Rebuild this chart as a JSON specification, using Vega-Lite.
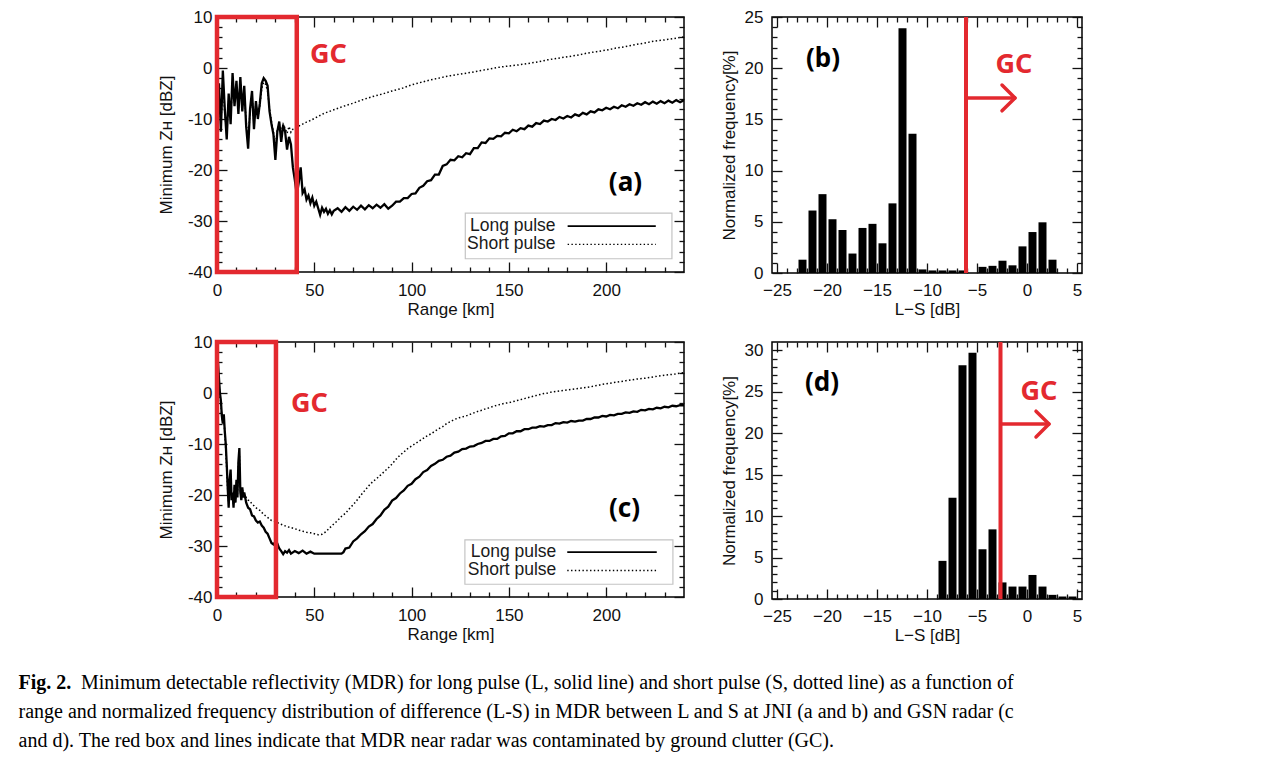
{
"$schema": "https://vega.github.io/schema/vega-lite/v6.json",
"background": "white",
"padding": {"left": 18, "top": 7, "right": 5, "bottom": 5},
"config": {
  "view": {"stroke": "black", "strokeWidth": 1.5},
  "font": "Liberation Sans",
  "axis": {"domain": false, "grid": false, "labelFont": "Liberation Sans", "labelFontSize": 17, "labelColor": "#111", "titleFont": "Liberation Sans", "titleFontSize": 17, "titleFontWeight": "normal", "titleColor": "#111", "tickColor": "#111", "tickWidth": 1.3, "labelFlush": false, "labelOverlap": false}
},
"datasets": {
  "mdrA": [
    {"pulse":"Long pulse","km":0,"dbz":-10.5},{"pulse":"Long pulse","km":1,"dbz":-3},{"pulse":"Long pulse","km":2,"dbz":-12.5},{"pulse":"Long pulse","km":3,"dbz":-0.5},{"pulse":"Long pulse","km":4,"dbz":-8},{"pulse":"Long pulse","km":5,"dbz":-14},{"pulse":"Long pulse","km":6,"dbz":-5},{"pulse":"Long pulse","km":7,"dbz":-11},{"pulse":"Long pulse","km":8,"dbz":-1},{"pulse":"Long pulse","km":9,"dbz":-7.5},{"pulse":"Long pulse","km":10,"dbz":-2.5},{"pulse":"Long pulse","km":11,"dbz":-9},{"pulse":"Long pulse","km":12,"dbz":-1.8},{"pulse":"Long pulse","km":13,"dbz":-8.5},{"pulse":"Long pulse","km":14,"dbz":-3.5},{"pulse":"Long pulse","km":15,"dbz":-11.5},{"pulse":"Long pulse","km":16,"dbz":-15.8},{"pulse":"Long pulse","km":17,"dbz":-8},{"pulse":"Long pulse","km":18,"dbz":-4.5},{"pulse":"Long pulse","km":19,"dbz":-12},{"pulse":"Long pulse","km":20,"dbz":-6.5},{"pulse":"Long pulse","km":21,"dbz":-10},{"pulse":"Long pulse","km":22,"dbz":-7},{"pulse":"Long pulse","km":23,"dbz":-3},{"pulse":"Long pulse","km":24,"dbz":-2},{"pulse":"Long pulse","km":25,"dbz":-2.5},{"pulse":"Long pulse","km":26,"dbz":-3.5},{"pulse":"Long pulse","km":27,"dbz":-8.5},{"pulse":"Long pulse","km":28,"dbz":-11},{"pulse":"Long pulse","km":29,"dbz":-13},{"pulse":"Long pulse","km":30,"dbz":-18},{"pulse":"Long pulse","km":31,"dbz":-12.5},{"pulse":"Long pulse","km":32,"dbz":-10.5},{"pulse":"Long pulse","km":33,"dbz":-14.5},{"pulse":"Long pulse","km":34,"dbz":-11.2},{"pulse":"Long pulse","km":35,"dbz":-12.5},{"pulse":"Long pulse","km":36,"dbz":-16},{"pulse":"Long pulse","km":37,"dbz":-13.5},{"pulse":"Long pulse","km":38,"dbz":-15},{"pulse":"Long pulse","km":39,"dbz":-19.5},{"pulse":"Long pulse","km":40,"dbz":-22},{"pulse":"Long pulse","km":41,"dbz":-24.8},{"pulse":"Long pulse","km":42,"dbz":-22.5},{"pulse":"Long pulse","km":43,"dbz":-19.5},{"pulse":"Long pulse","km":44,"dbz":-24.5},{"pulse":"Long pulse","km":45,"dbz":-23.8},{"pulse":"Long pulse","km":46,"dbz":-25.8},{"pulse":"Long pulse","km":47,"dbz":-25},{"pulse":"Long pulse","km":48,"dbz":-26.5},{"pulse":"Long pulse","km":49,"dbz":-25.4},{"pulse":"Long pulse","km":50,"dbz":-27},{"pulse":"Long pulse","km":51,"dbz":-26.2},{"pulse":"Long pulse","km":52,"dbz":-27.5},{"pulse":"Long pulse","km":53,"dbz":-28.8},{"pulse":"Long pulse","km":54,"dbz":-27.4},{"pulse":"Long pulse","km":55,"dbz":-28.2},{"pulse":"Long pulse","km":56,"dbz":-27.6},{"pulse":"Long pulse","km":57,"dbz":-28.6},{"pulse":"Long pulse","km":58,"dbz":-27.9},{"pulse":"Long pulse","km":59,"dbz":-28.7},{"pulse":"Long pulse","km":60,"dbz":-28.0},
    {"pulse":"Long pulse","km":62,"dbz":-27.5},{"pulse":"Long pulse","km":64,"dbz":-28.2},{"pulse":"Long pulse","km":66,"dbz":-27.3},{"pulse":"Long pulse","km":68,"dbz":-28.0},{"pulse":"Long pulse","km":70,"dbz":-27.2},{"pulse":"Long pulse","km":72,"dbz":-27.8},{"pulse":"Long pulse","km":74,"dbz":-27.0},{"pulse":"Long pulse","km":76,"dbz":-27.7},{"pulse":"Long pulse","km":78,"dbz":-26.9},{"pulse":"Long pulse","km":80,"dbz":-27.5},{"pulse":"Long pulse","km":82,"dbz":-26.8},{"pulse":"Long pulse","km":84,"dbz":-27.4},{"pulse":"Long pulse","km":86,"dbz":-26.7},{"pulse":"Long pulse","km":88,"dbz":-27.6},{"pulse":"Long pulse","km":90,"dbz":-27.0},{"pulse":"Long pulse","km":92,"dbz":-26.2},{"pulse":"Long pulse","km":94,"dbz":-26.2},{"pulse":"Long pulse","km":96,"dbz":-25.5},{"pulse":"Long pulse","km":98,"dbz":-25.5},{"pulse":"Long pulse","km":100,"dbz":-24.7},{"pulse":"Long pulse","km":102,"dbz":-24.6},{"pulse":"Long pulse","km":104,"dbz":-23.5},{"pulse":"Long pulse","km":106,"dbz":-23.1},{"pulse":"Long pulse","km":108,"dbz":-22.2},{"pulse":"Long pulse","km":110,"dbz":-22.0},{"pulse":"Long pulse","km":112,"dbz":-20.9},{"pulse":"Long pulse","km":114,"dbz":-20.9},{"pulse":"Long pulse","km":116,"dbz":-19.2},{"pulse":"Long pulse","km":118,"dbz":-18.9},{"pulse":"Long pulse","km":120,"dbz":-18.0},{"pulse":"Long pulse","km":122,"dbz":-18.1},{"pulse":"Long pulse","km":124,"dbz":-17.3},{"pulse":"Long pulse","km":126,"dbz":-17.5},{"pulse":"Long pulse","km":128,"dbz":-16.7},{"pulse":"Long pulse","km":130,"dbz":-16.9},{"pulse":"Long pulse","km":132,"dbz":-15.7},{"pulse":"Long pulse","km":134,"dbz":-15.7},{"pulse":"Long pulse","km":136,"dbz":-14.6},{"pulse":"Long pulse","km":138,"dbz":-14.7},{"pulse":"Long pulse","km":140,"dbz":-13.8},{"pulse":"Long pulse","km":142,"dbz":-13.9},{"pulse":"Long pulse","km":144,"dbz":-13.3},{"pulse":"Long pulse","km":146,"dbz":-13.4},{"pulse":"Long pulse","km":148,"dbz":-12.7},{"pulse":"Long pulse","km":150,"dbz":-12.8},{"pulse":"Long pulse","km":152,"dbz":-12.1},{"pulse":"Long pulse","km":154,"dbz":-12.4},{"pulse":"Long pulse","km":156,"dbz":-11.8},{"pulse":"Long pulse","km":158,"dbz":-12.0},{"pulse":"Long pulse","km":160,"dbz":-11.3},{"pulse":"Long pulse","km":162,"dbz":-11.5},{"pulse":"Long pulse","km":164,"dbz":-10.8},{"pulse":"Long pulse","km":166,"dbz":-11.0},{"pulse":"Long pulse","km":168,"dbz":-10.3},{"pulse":"Long pulse","km":170,"dbz":-10.5},{"pulse":"Long pulse","km":172,"dbz":-10.0},{"pulse":"Long pulse","km":174,"dbz":-10.2},{"pulse":"Long pulse","km":176,"dbz":-9.6},{"pulse":"Long pulse","km":178,"dbz":-9.9},{"pulse":"Long pulse","km":180,"dbz":-9.4},{"pulse":"Long pulse","km":182,"dbz":-9.7},{"pulse":"Long pulse","km":184,"dbz":-9.1},{"pulse":"Long pulse","km":186,"dbz":-9.4},{"pulse":"Long pulse","km":188,"dbz":-8.8},{"pulse":"Long pulse","km":190,"dbz":-9.1},{"pulse":"Long pulse","km":192,"dbz":-8.5},{"pulse":"Long pulse","km":194,"dbz":-8.7},{"pulse":"Long pulse","km":196,"dbz":-8.1},{"pulse":"Long pulse","km":198,"dbz":-8.3},{"pulse":"Long pulse","km":200,"dbz":-7.8},{"pulse":"Long pulse","km":202,"dbz":-8.1},{"pulse":"Long pulse","km":204,"dbz":-7.6},{"pulse":"Long pulse","km":206,"dbz":-7.9},{"pulse":"Long pulse","km":208,"dbz":-7.3},{"pulse":"Long pulse","km":210,"dbz":-7.6},{"pulse":"Long pulse","km":212,"dbz":-7.1},{"pulse":"Long pulse","km":214,"dbz":-7.4},{"pulse":"Long pulse","km":216,"dbz":-6.9},{"pulse":"Long pulse","km":218,"dbz":-7.2},{"pulse":"Long pulse","km":220,"dbz":-6.7},{"pulse":"Long pulse","km":222,"dbz":-7.1},{"pulse":"Long pulse","km":224,"dbz":-6.6},{"pulse":"Long pulse","km":226,"dbz":-7.0},{"pulse":"Long pulse","km":228,"dbz":-6.5},{"pulse":"Long pulse","km":230,"dbz":-6.9},{"pulse":"Long pulse","km":232,"dbz":-6.4},{"pulse":"Long pulse","km":234,"dbz":-6.8},{"pulse":"Long pulse","km":236,"dbz":-6.3},{"pulse":"Long pulse","km":238,"dbz":-6.7},{"pulse":"Long pulse","km":240,"dbz":-6.3},
    {"pulse":"Short pulse","km":0,"dbz":-9.5},{"pulse":"Short pulse","km":1,"dbz":-5},{"pulse":"Short pulse","km":2,"dbz":-11},{"pulse":"Short pulse","km":3,"dbz":-2.5},{"pulse":"Short pulse","km":4,"dbz":-9},{"pulse":"Short pulse","km":5,"dbz":-12.5},{"pulse":"Short pulse","km":6,"dbz":-6.5},{"pulse":"Short pulse","km":7,"dbz":-10},{"pulse":"Short pulse","km":8,"dbz":-2.5},{"pulse":"Short pulse","km":9,"dbz":-6.5},{"pulse":"Short pulse","km":10,"dbz":-4},{"pulse":"Short pulse","km":11,"dbz":-8},{"pulse":"Short pulse","km":12,"dbz":-3},{"pulse":"Short pulse","km":13,"dbz":-7.5},{"pulse":"Short pulse","km":14,"dbz":-5},{"pulse":"Short pulse","km":15,"dbz":-10.5},{"pulse":"Short pulse","km":16,"dbz":-14.5},{"pulse":"Short pulse","km":17,"dbz":-8.5},{"pulse":"Short pulse","km":18,"dbz":-5.5},{"pulse":"Short pulse","km":19,"dbz":-11},{"pulse":"Short pulse","km":20,"dbz":-7},{"pulse":"Short pulse","km":21,"dbz":-9.5},{"pulse":"Short pulse","km":22,"dbz":-7.5},{"pulse":"Short pulse","km":23,"dbz":-4},{"pulse":"Short pulse","km":24,"dbz":-2.8},{"pulse":"Short pulse","km":25,"dbz":-3.2},{"pulse":"Short pulse","km":26,"dbz":-4.5},{"pulse":"Short pulse","km":27,"dbz":-8},{"pulse":"Short pulse","km":28,"dbz":-10.5},{"pulse":"Short pulse","km":29,"dbz":-12.5},{"pulse":"Short pulse","km":30,"dbz":-15.5},{"pulse":"Short pulse","km":31,"dbz":-12},{"pulse":"Short pulse","km":32,"dbz":-11},{"pulse":"Short pulse","km":33,"dbz":-12.5},{"pulse":"Short pulse","km":34,"dbz":-11},{"pulse":"Short pulse","km":35,"dbz":-11.8},{"pulse":"Short pulse","km":36,"dbz":-12.8},{"pulse":"Short pulse","km":37,"dbz":-11.5},{"pulse":"Short pulse","km":38,"dbz":-12.6},{"pulse":"Short pulse","km":39,"dbz":-12.0},{"pulse":"Short pulse","km":40,"dbz":-11.8},{"pulse":"Short pulse","km":42,"dbz":-11.4},{"pulse":"Short pulse","km":44,"dbz":-11.0},{"pulse":"Short pulse","km":46,"dbz":-10.6},{"pulse":"Short pulse","km":48,"dbz":-10.3},{"pulse":"Short pulse","km":50,"dbz":-9.9},{"pulse":"Short pulse","km":55,"dbz":-8.9},{"pulse":"Short pulse","km":60,"dbz":-8.2},{"pulse":"Short pulse","km":65,"dbz":-7.5},{"pulse":"Short pulse","km":70,"dbz":-6.9},{"pulse":"Short pulse","km":75,"dbz":-6.2},{"pulse":"Short pulse","km":80,"dbz":-5.6},{"pulse":"Short pulse","km":85,"dbz":-5.1},{"pulse":"Short pulse","km":90,"dbz":-4.5},{"pulse":"Short pulse","km":95,"dbz":-4.0},{"pulse":"Short pulse","km":100,"dbz":-3.3},{"pulse":"Short pulse","km":105,"dbz":-2.8},{"pulse":"Short pulse","km":110,"dbz":-2.3},{"pulse":"Short pulse","km":115,"dbz":-1.9},{"pulse":"Short pulse","km":120,"dbz":-1.5},{"pulse":"Short pulse","km":125,"dbz":-1.2},{"pulse":"Short pulse","km":130,"dbz":-0.9},{"pulse":"Short pulse","km":135,"dbz":-0.55},{"pulse":"Short pulse","km":140,"dbz":-0.2},{"pulse":"Short pulse","km":145,"dbz":0.15},{"pulse":"Short pulse","km":150,"dbz":0.4},{"pulse":"Short pulse","km":155,"dbz":0.6},{"pulse":"Short pulse","km":160,"dbz":0.9},{"pulse":"Short pulse","km":165,"dbz":1.2},{"pulse":"Short pulse","km":170,"dbz":1.6},{"pulse":"Short pulse","km":175,"dbz":1.9},{"pulse":"Short pulse","km":180,"dbz":2.2},{"pulse":"Short pulse","km":185,"dbz":2.5},{"pulse":"Short pulse","km":190,"dbz":2.9},{"pulse":"Short pulse","km":195,"dbz":3.2},{"pulse":"Short pulse","km":200,"dbz":3.5},{"pulse":"Short pulse","km":205,"dbz":3.9},{"pulse":"Short pulse","km":210,"dbz":4.2},{"pulse":"Short pulse","km":215,"dbz":4.6},{"pulse":"Short pulse","km":220,"dbz":4.9},{"pulse":"Short pulse","km":225,"dbz":5.3},{"pulse":"Short pulse","km":230,"dbz":5.5},{"pulse":"Short pulse","km":235,"dbz":5.8},{"pulse":"Short pulse","km":240,"dbz":6.1}
  ],
  "mdrC": [
    {"pulse":"Long pulse","km":0,"dbz":9.5},{"pulse":"Long pulse","km":0.5,"dbz":6},{"pulse":"Long pulse","km":1,"dbz":3},{"pulse":"Long pulse","km":1.5,"dbz":0},{"pulse":"Long pulse","km":2,"dbz":-1.5},{"pulse":"Long pulse","km":2.5,"dbz":-4.5},{"pulse":"Long pulse","km":3,"dbz":-6},{"pulse":"Long pulse","km":3.5,"dbz":-4.2},{"pulse":"Long pulse","km":4,"dbz":-7.5},{"pulse":"Long pulse","km":4.5,"dbz":-10},{"pulse":"Long pulse","km":5,"dbz":-14},{"pulse":"Long pulse","km":5.5,"dbz":-18.5},{"pulse":"Long pulse","km":6,"dbz":-22.5},{"pulse":"Long pulse","km":6.5,"dbz":-17},{"pulse":"Long pulse","km":7,"dbz":-15},{"pulse":"Long pulse","km":7.5,"dbz":-21},{"pulse":"Long pulse","km":8,"dbz":-19.5},{"pulse":"Long pulse","km":8.5,"dbz":-22.5},{"pulse":"Long pulse","km":9,"dbz":-18},{"pulse":"Long pulse","km":9.5,"dbz":-21.5},{"pulse":"Long pulse","km":10,"dbz":-17},{"pulse":"Long pulse","km":10.5,"dbz":-20.5},{"pulse":"Long pulse","km":11,"dbz":-13.5},{"pulse":"Long pulse","km":11.5,"dbz":-10.8},{"pulse":"Long pulse","km":12,"dbz":-19.5},{"pulse":"Long pulse","km":12.5,"dbz":-21},{"pulse":"Long pulse","km":13,"dbz":-18.5},{"pulse":"Long pulse","km":13.5,"dbz":-20.5},{"pulse":"Long pulse","km":14,"dbz":-19.5},{"pulse":"Long pulse","km":15,"dbz":-21.5},{"pulse":"Long pulse","km":16,"dbz":-22.5},{"pulse":"Long pulse","km":17,"dbz":-22.8},{"pulse":"Long pulse","km":18,"dbz":-24},{"pulse":"Long pulse","km":19,"dbz":-24.2},{"pulse":"Long pulse","km":20,"dbz":-25},{"pulse":"Long pulse","km":21,"dbz":-25.4},{"pulse":"Long pulse","km":22,"dbz":-25.2},{"pulse":"Long pulse","km":23,"dbz":-26},{"pulse":"Long pulse","km":24,"dbz":-26.4},{"pulse":"Long pulse","km":25,"dbz":-27.2},{"pulse":"Long pulse","km":26,"dbz":-27.6},{"pulse":"Long pulse","km":27,"dbz":-28.5},{"pulse":"Long pulse","km":28,"dbz":-29.4},{"pulse":"Long pulse","km":29,"dbz":-29.7},{"pulse":"Long pulse","km":30,"dbz":-29.2},{"pulse":"Long pulse","km":31,"dbz":-29.5},{"pulse":"Long pulse","km":32,"dbz":-30.5},{"pulse":"Long pulse","km":33,"dbz":-31.0},{"pulse":"Long pulse","km":34,"dbz":-31.6},{"pulse":"Long pulse","km":35,"dbz":-31.0},{"pulse":"Long pulse","km":36,"dbz":-31.3},{"pulse":"Long pulse","km":37,"dbz":-30.8},{"pulse":"Long pulse","km":38,"dbz":-31.5},{"pulse":"Long pulse","km":40,"dbz":-31.0},{"pulse":"Long pulse","km":42,"dbz":-31.4},{"pulse":"Long pulse","km":44,"dbz":-30.9},{"pulse":"Long pulse","km":46,"dbz":-31.5},{"pulse":"Long pulse","km":48,"dbz":-31.1},{"pulse":"Long pulse","km":50,"dbz":-31.5},{"pulse":"Long pulse","km":52,"dbz":-31.5},{"pulse":"Long pulse","km":56,"dbz":-31.5},{"pulse":"Long pulse","km":60,"dbz":-31.5},{"pulse":"Long pulse","km":64,"dbz":-31.5},{"pulse":"Long pulse","km":65,"dbz":-31.2},{"pulse":"Long pulse","km":66,"dbz":-30.5},{"pulse":"Long pulse","km":68,"dbz":-30.3},{"pulse":"Long pulse","km":70,"dbz":-29.1},{"pulse":"Long pulse","km":72,"dbz":-28.5},{"pulse":"Long pulse","km":74,"dbz":-27.7},{"pulse":"Long pulse","km":76,"dbz":-27.1},{"pulse":"Long pulse","km":78,"dbz":-26.2},{"pulse":"Long pulse","km":80,"dbz":-25.7},{"pulse":"Long pulse","km":82,"dbz":-24.7},{"pulse":"Long pulse","km":84,"dbz":-24.0},{"pulse":"Long pulse","km":86,"dbz":-22.9},{"pulse":"Long pulse","km":88,"dbz":-22.3},{"pulse":"Long pulse","km":90,"dbz":-21.1},{"pulse":"Long pulse","km":92,"dbz":-20.6},{"pulse":"Long pulse","km":94,"dbz":-19.7},{"pulse":"Long pulse","km":96,"dbz":-19.1},{"pulse":"Long pulse","km":98,"dbz":-18.2},{"pulse":"Long pulse","km":100,"dbz":-17.8},{"pulse":"Long pulse","km":102,"dbz":-16.9},{"pulse":"Long pulse","km":104,"dbz":-16.4},{"pulse":"Long pulse","km":106,"dbz":-15.5},{"pulse":"Long pulse","km":108,"dbz":-15.1},{"pulse":"Long pulse","km":110,"dbz":-14.3},{"pulse":"Long pulse","km":112,"dbz":-13.9},{"pulse":"Long pulse","km":114,"dbz":-13.3},{"pulse":"Long pulse","km":116,"dbz":-13.1},{"pulse":"Long pulse","km":118,"dbz":-12.5},{"pulse":"Long pulse","km":120,"dbz":-12.3},{"pulse":"Long pulse","km":122,"dbz":-11.7},{"pulse":"Long pulse","km":124,"dbz":-11.5},{"pulse":"Long pulse","km":126,"dbz":-11.0},{"pulse":"Long pulse","km":128,"dbz":-10.9},{"pulse":"Long pulse","km":130,"dbz":-10.5},{"pulse":"Long pulse","km":132,"dbz":-10.4},{"pulse":"Long pulse","km":134,"dbz":-10.0},{"pulse":"Long pulse","km":136,"dbz":-9.8},{"pulse":"Long pulse","km":138,"dbz":-9.4},{"pulse":"Long pulse","km":140,"dbz":-9.4},{"pulse":"Long pulse","km":142,"dbz":-9.0},{"pulse":"Long pulse","km":144,"dbz":-9.0},{"pulse":"Long pulse","km":146,"dbz":-8.5},{"pulse":"Long pulse","km":148,"dbz":-8.4},{"pulse":"Long pulse","km":150,"dbz":-7.9},{"pulse":"Long pulse","km":152,"dbz":-7.9},{"pulse":"Long pulse","km":154,"dbz":-7.5},{"pulse":"Long pulse","km":156,"dbz":-7.5},{"pulse":"Long pulse","km":158,"dbz":-7.1},{"pulse":"Long pulse","km":160,"dbz":-7.1},{"pulse":"Long pulse","km":162,"dbz":-6.8},{"pulse":"Long pulse","km":164,"dbz":-6.8},{"pulse":"Long pulse","km":166,"dbz":-6.5},{"pulse":"Long pulse","km":168,"dbz":-6.6},{"pulse":"Long pulse","km":170,"dbz":-6.3},{"pulse":"Long pulse","km":172,"dbz":-6.3},{"pulse":"Long pulse","km":174,"dbz":-5.9},{"pulse":"Long pulse","km":176,"dbz":-6.0},{"pulse":"Long pulse","km":178,"dbz":-5.7},{"pulse":"Long pulse","km":180,"dbz":-5.8},{"pulse":"Long pulse","km":182,"dbz":-5.5},{"pulse":"Long pulse","km":184,"dbz":-5.6},{"pulse":"Long pulse","km":186,"dbz":-5.4},{"pulse":"Long pulse","km":188,"dbz":-5.4},{"pulse":"Long pulse","km":190,"dbz":-5.1},{"pulse":"Long pulse","km":192,"dbz":-5.1},{"pulse":"Long pulse","km":194,"dbz":-4.8},{"pulse":"Long pulse","km":196,"dbz":-4.8},{"pulse":"Long pulse","km":198,"dbz":-4.5},{"pulse":"Long pulse","km":200,"dbz":-4.6},{"pulse":"Long pulse","km":202,"dbz":-4.3},{"pulse":"Long pulse","km":204,"dbz":-4.4},{"pulse":"Long pulse","km":206,"dbz":-4.1},{"pulse":"Long pulse","km":208,"dbz":-4.1},{"pulse":"Long pulse","km":210,"dbz":-3.8},{"pulse":"Long pulse","km":212,"dbz":-3.9},{"pulse":"Long pulse","km":214,"dbz":-3.6},{"pulse":"Long pulse","km":216,"dbz":-3.7},{"pulse":"Long pulse","km":218,"dbz":-3.3},{"pulse":"Long pulse","km":220,"dbz":-3.4},{"pulse":"Long pulse","km":222,"dbz":-3.1},{"pulse":"Long pulse","km":224,"dbz":-3.2},{"pulse":"Long pulse","km":226,"dbz":-2.9},{"pulse":"Long pulse","km":228,"dbz":-3.0},{"pulse":"Long pulse","km":230,"dbz":-2.7},{"pulse":"Long pulse","km":232,"dbz":-2.8},{"pulse":"Long pulse","km":234,"dbz":-2.5},{"pulse":"Long pulse","km":236,"dbz":-2.6},{"pulse":"Long pulse","km":238,"dbz":-2.4},{"pulse":"Long pulse","km":240,"dbz":-2.4},
    {"pulse":"Short pulse","km":0,"dbz":9},{"pulse":"Short pulse","km":0.5,"dbz":5},{"pulse":"Short pulse","km":1,"dbz":2},{"pulse":"Short pulse","km":1.5,"dbz":-1},{"pulse":"Short pulse","km":2,"dbz":-2},{"pulse":"Short pulse","km":2.5,"dbz":-5},{"pulse":"Short pulse","km":3,"dbz":-5.5},{"pulse":"Short pulse","km":3.5,"dbz":-4.5},{"pulse":"Short pulse","km":4,"dbz":-8},{"pulse":"Short pulse","km":4.5,"dbz":-11},{"pulse":"Short pulse","km":5,"dbz":-15},{"pulse":"Short pulse","km":5.5,"dbz":-19},{"pulse":"Short pulse","km":6,"dbz":-21.5},{"pulse":"Short pulse","km":6.5,"dbz":-17.5},{"pulse":"Short pulse","km":7,"dbz":-16},{"pulse":"Short pulse","km":7.5,"dbz":-20.5},{"pulse":"Short pulse","km":8,"dbz":-20},{"pulse":"Short pulse","km":8.5,"dbz":-22},{"pulse":"Short pulse","km":9,"dbz":-18.5},{"pulse":"Short pulse","km":9.5,"dbz":-21},{"pulse":"Short pulse","km":10,"dbz":-17.5},{"pulse":"Short pulse","km":10.5,"dbz":-20},{"pulse":"Short pulse","km":11,"dbz":-14},{"pulse":"Short pulse","km":11.5,"dbz":-12},{"pulse":"Short pulse","km":12,"dbz":-19},{"pulse":"Short pulse","km":12.5,"dbz":-20.5},{"pulse":"Short pulse","km":13,"dbz":-19},{"pulse":"Short pulse","km":14,"dbz":-19.8},{"pulse":"Short pulse","km":15,"dbz":-20.5},{"pulse":"Short pulse","km":16,"dbz":-21},{"pulse":"Short pulse","km":17,"dbz":-21.2},{"pulse":"Short pulse","km":18,"dbz":-21.8},{"pulse":"Short pulse","km":19,"dbz":-22.1},{"pulse":"Short pulse","km":20,"dbz":-22.5},{"pulse":"Short pulse","km":22,"dbz":-23.0},{"pulse":"Short pulse","km":24,"dbz":-23.8},{"pulse":"Short pulse","km":26,"dbz":-24.4},{"pulse":"Short pulse","km":28,"dbz":-25.0},{"pulse":"Short pulse","km":30,"dbz":-25.2},{"pulse":"Short pulse","km":32,"dbz":-25.6},{"pulse":"Short pulse","km":34,"dbz":-25.9},{"pulse":"Short pulse","km":36,"dbz":-26.2},{"pulse":"Short pulse","km":38,"dbz":-26.4},{"pulse":"Short pulse","km":40,"dbz":-26.6},{"pulse":"Short pulse","km":42,"dbz":-26.9},{"pulse":"Short pulse","km":44,"dbz":-27.1},{"pulse":"Short pulse","km":46,"dbz":-27.3},{"pulse":"Short pulse","km":48,"dbz":-27.4},{"pulse":"Short pulse","km":50,"dbz":-27.6},{"pulse":"Short pulse","km":52,"dbz":-27.8},{"pulse":"Short pulse","km":54,"dbz":-27.7},{"pulse":"Short pulse","km":56,"dbz":-27.2},{"pulse":"Short pulse","km":58,"dbz":-26.4},{"pulse":"Short pulse","km":60,"dbz":-25.7},{"pulse":"Short pulse","km":62,"dbz":-25.0},{"pulse":"Short pulse","km":64,"dbz":-24.2},{"pulse":"Short pulse","km":66,"dbz":-23.6},{"pulse":"Short pulse","km":68,"dbz":-22.7},{"pulse":"Short pulse","km":70,"dbz":-21.9},{"pulse":"Short pulse","km":72,"dbz":-21.0},{"pulse":"Short pulse","km":74,"dbz":-20.0},{"pulse":"Short pulse","km":76,"dbz":-19.1},{"pulse":"Short pulse","km":78,"dbz":-18.2},{"pulse":"Short pulse","km":80,"dbz":-17.4},{"pulse":"Short pulse","km":82,"dbz":-16.8},{"pulse":"Short pulse","km":84,"dbz":-16.1},{"pulse":"Short pulse","km":86,"dbz":-15.4},{"pulse":"Short pulse","km":88,"dbz":-14.7},{"pulse":"Short pulse","km":90,"dbz":-13.9},{"pulse":"Short pulse","km":92,"dbz":-13.0},{"pulse":"Short pulse","km":94,"dbz":-12.2},{"pulse":"Short pulse","km":96,"dbz":-11.6},{"pulse":"Short pulse","km":98,"dbz":-10.9},{"pulse":"Short pulse","km":100,"dbz":-10.4},{"pulse":"Short pulse","km":102,"dbz":-9.9},{"pulse":"Short pulse","km":104,"dbz":-9.4},{"pulse":"Short pulse","km":106,"dbz":-8.9},{"pulse":"Short pulse","km":108,"dbz":-8.4},{"pulse":"Short pulse","km":110,"dbz":-8.0},{"pulse":"Short pulse","km":112,"dbz":-7.5},{"pulse":"Short pulse","km":114,"dbz":-7.0},{"pulse":"Short pulse","km":116,"dbz":-6.6},{"pulse":"Short pulse","km":118,"dbz":-6.0},{"pulse":"Short pulse","km":120,"dbz":-5.6},{"pulse":"Short pulse","km":122,"dbz":-5.2},{"pulse":"Short pulse","km":124,"dbz":-4.9},{"pulse":"Short pulse","km":126,"dbz":-4.7},{"pulse":"Short pulse","km":128,"dbz":-4.5},{"pulse":"Short pulse","km":130,"dbz":-4.2},{"pulse":"Short pulse","km":132,"dbz":-3.9},{"pulse":"Short pulse","km":134,"dbz":-3.6},{"pulse":"Short pulse","km":136,"dbz":-3.4},{"pulse":"Short pulse","km":138,"dbz":-3.1},{"pulse":"Short pulse","km":140,"dbz":-2.9},{"pulse":"Short pulse","km":142,"dbz":-2.6},{"pulse":"Short pulse","km":144,"dbz":-2.4},{"pulse":"Short pulse","km":146,"dbz":-2.2},{"pulse":"Short pulse","km":148,"dbz":-2.0},{"pulse":"Short pulse","km":150,"dbz":-1.9},{"pulse":"Short pulse","km":152,"dbz":-1.7},{"pulse":"Short pulse","km":154,"dbz":-1.5},{"pulse":"Short pulse","km":156,"dbz":-1.3},{"pulse":"Short pulse","km":158,"dbz":-1.1},{"pulse":"Short pulse","km":160,"dbz":-0.9},{"pulse":"Short pulse","km":162,"dbz":-0.7},{"pulse":"Short pulse","km":164,"dbz":-0.5},{"pulse":"Short pulse","km":166,"dbz":-0.3},{"pulse":"Short pulse","km":168,"dbz":-0.1},{"pulse":"Short pulse","km":170,"dbz":0.0},{"pulse":"Short pulse","km":172,"dbz":0.2},{"pulse":"Short pulse","km":174,"dbz":0.3},{"pulse":"Short pulse","km":176,"dbz":0.4},{"pulse":"Short pulse","km":178,"dbz":0.5},{"pulse":"Short pulse","km":180,"dbz":0.6},{"pulse":"Short pulse","km":182,"dbz":0.7},{"pulse":"Short pulse","km":184,"dbz":0.8},{"pulse":"Short pulse","km":186,"dbz":0.9},{"pulse":"Short pulse","km":188,"dbz":1.0},{"pulse":"Short pulse","km":190,"dbz":1.1},{"pulse":"Short pulse","km":192,"dbz":1.2},{"pulse":"Short pulse","km":194,"dbz":1.4},{"pulse":"Short pulse","km":196,"dbz":1.5},{"pulse":"Short pulse","km":198,"dbz":1.7},{"pulse":"Short pulse","km":200,"dbz":1.8},{"pulse":"Short pulse","km":205,"dbz":2.1},{"pulse":"Short pulse","km":210,"dbz":2.4},{"pulse":"Short pulse","km":215,"dbz":2.7},{"pulse":"Short pulse","km":220,"dbz":2.9},{"pulse":"Short pulse","km":225,"dbz":3.2},{"pulse":"Short pulse","km":230,"dbz":3.5},{"pulse":"Short pulse","km":235,"dbz":3.7},{"pulse":"Short pulse","km":240,"dbz":4.0}
  ],
  "histB": [
    {"lo":-23,"hi":-22,"freq":1.3},{"lo":-22,"hi":-21,"freq":6.1},{"lo":-21,"hi":-20,"freq":7.7},{"lo":-20,"hi":-19,"freq":5.25},{"lo":-19,"hi":-18,"freq":4.2},{"lo":-18,"hi":-17,"freq":1.9},{"lo":-17,"hi":-16,"freq":4.4},{"lo":-16,"hi":-15,"freq":4.8},{"lo":-15,"hi":-14,"freq":2.9},{"lo":-14,"hi":-13,"freq":6.8},{"lo":-13,"hi":-12,"freq":23.9},{"lo":-12,"hi":-11,"freq":13.6},{"lo":-11,"hi":-10,"freq":0.35},{"lo":-10,"hi":-9,"freq":0.25},{"lo":-9,"hi":-8,"freq":0.25},{"lo":-8,"hi":-7,"freq":0.25},{"lo":-7,"hi":-6,"freq":0.25},{"lo":-5,"hi":-4,"freq":0.6},{"lo":-4,"hi":-3,"freq":0.7},{"lo":-3,"hi":-2,"freq":1.2},{"lo":-2,"hi":-1,"freq":0.75},{"lo":-1,"hi":0,"freq":2.6},{"lo":0,"hi":1,"freq":4.0},{"lo":1,"hi":2,"freq":4.95},{"lo":2,"hi":3,"freq":1.3}
  ],
  "histD": [
    {"lo":-9,"hi":-8,"freq":4.6},{"lo":-8,"hi":-7,"freq":12.2},{"lo":-7,"hi":-6,"freq":28.2},{"lo":-6,"hi":-5,"freq":29.7},{"lo":-5,"hi":-4,"freq":6.0},{"lo":-4,"hi":-3,"freq":8.4},{"lo":-3,"hi":-2,"freq":2.0},{"lo":-2,"hi":-1,"freq":1.5},{"lo":-1,"hi":0,"freq":1.5},{"lo":0,"hi":1,"freq":2.9},{"lo":1,"hi":2,"freq":1.5},{"lo":2,"hi":3,"freq":0.5},{"lo":3,"hi":4,"freq":0.3},{"lo":4,"hi":5,"freq":0.3}
  ],
  "caption": [
    {"line":1,"part":"head","text":"Fig. 2."},
    {"line":1,"part":"first","text":"Minimum detectable reflectivity (MDR) for long pulse (L, solid line) and short pulse (S, dotted line) as a function of"},
    {"line":2,"part":"body","text":"range and normalized frequency distribution of difference (L-S) in MDR between L and S at JNI (a and b) and GSN radar (c"},
    {"line":3,"part":"body","text":"and d). The red box and lines indicate that MDR near radar was contaminated by ground clutter (GC)."}
  ]
},
"columns": 2,
"spacing": {"row": 69, "column": 88},
"bounds": "flush",
"align": "each",
"concat": [
  {
    "width": 467, "height": 255,
    "resolve": {"axis": {"x": "independent", "y": "independent"}},
    "layer": [
      {"data": {"name": "mdrA"}, "transform": [{"filter": "datum.pulse == 'Long pulse'"}],
       "mark": {"type": "line", "clip": true, "color": "black", "strokeWidth": 2.3},
       "encoding": {
         "x": {"field": "km", "type": "quantitative", "scale": {"domain": [0, 240], "nice": false, "zero": false},
               "axis": {"orient": "bottom", "values": [0, 50, 100, 150, 200], "ticks": false, "labelPadding": 10, "labelExpr": "'' + datum.value", "title": "Range [km]", "titlePadding": 3}},
         "y": {"field": "dbz", "type": "quantitative", "scale": {"domain": [-40, 10], "nice": false, "zero": false},
               "axis": {"orient": "left", "values": [-40, -30, -20, -10, 0, 10], "ticks": false, "labelPadding": 5, "labelExpr": "'' + datum.value", "title": "Minimum Zʜ [dBZ]", "titlePadding": 12}}
       }},
      {"data": {"name": "mdrA"}, "transform": [{"filter": "datum.pulse == 'Short pulse'"}],
       "mark": {"type": "line", "clip": true, "color": "black", "strokeWidth": 1.5, "strokeDash": [1.5, 2.3]},
       "encoding": {"x": {"field": "km", "type": "quantitative", "axis": null}, "y": {"field": "dbz", "type": "quantitative", "axis": null}}},
      {"data": {"name": "mdrA"}, "transform": [{"filter": "datum.km == 0"}], "mark": {"type": "point", "opacity": 0},
       "encoding": {
         "x": {"field": "km", "type": "quantitative", "axis": {"orient": "bottom", "values": [0, 50, 100, 150, 200], "labels": false, "tickSize": -10, "title": null}},
         "y": {"field": "dbz", "type": "quantitative", "axis": {"orient": "left", "values": [-40, -30, -20, -10, 0, 10], "labels": false, "tickSize": -10, "title": null}}}},
      {"data": {"name": "mdrA"}, "transform": [{"filter": "datum.km == 0"}], "mark": {"type": "point", "opacity": 0},
       "encoding": {
         "x": {"field": "km", "type": "quantitative", "axis": {"orient": "bottom", "values": [10,20,30,40,60,70,80,90,110,120,130,140,160,170,180,190,210,220,230], "labels": false, "tickSize": -5, "title": null}},
         "y": {"field": "dbz", "type": "quantitative", "axis": {"orient": "left", "values": [-38,-36,-34,-32,-28,-26,-24,-22,-18,-16,-14,-12,-8,-6,-4,-2,2,4,6,8], "labels": false, "tickSize": -5, "title": null}}}},
      {"data": {"name": "mdrA"}, "transform": [{"filter": "datum.km == 0"}], "mark": {"type": "point", "opacity": 0},
       "encoding": {
         "x": {"field": "km", "type": "quantitative", "axis": {"orient": "top", "values": [0, 50, 100, 150, 200], "labels": false, "tickSize": -10, "title": null}},
         "y": {"field": "dbz", "type": "quantitative", "axis": {"orient": "right", "values": [-40, -30, -20, -10, 0, 10], "labels": false, "tickSize": -10, "title": null}}}},
      {"data": {"name": "mdrA"}, "transform": [{"filter": "datum.km == 0"}], "mark": {"type": "point", "opacity": 0},
       "encoding": {
         "x": {"field": "km", "type": "quantitative", "axis": {"orient": "top", "values": [10,20,30,40,60,70,80,90,110,120,130,140,160,170,180,190,210,220,230], "labels": false, "tickSize": -5, "title": null}},
         "y": {"field": "dbz", "type": "quantitative", "axis": {"orient": "right", "values": [-38,-36,-34,-32,-28,-26,-24,-22,-18,-16,-14,-12,-8,-6,-4,-2,2,4,6,8], "labels": false, "tickSize": -5, "title": null}}}},
      {"data": {"values": [{}]}, "mark": {"type": "rect", "filled": false, "stroke": "#e3292f", "strokeWidth": 4.5},
       "encoding": {"x": {"datum": 0, "type": "quantitative", "axis": null}, "x2": {"datum": 41}, "y": {"datum": -40, "type": "quantitative", "axis": null}, "y2": {"datum": 10}}},
      {"data": {"values": [{}]}, "mark": {"type": "text", "text": "GC", "font": "Noto Sans", "fontWeight": "bold", "fontSize": 27, "color": "#e3292f"},
       "encoding": {"x": {"datum": 57.3, "type": "quantitative", "axis": null}, "y": {"datum": 2.6, "type": "quantitative", "axis": null}}},
      {"data": {"values": [{}]}, "mark": {"type": "text", "text": "(a)", "font": "Noto Sans", "fontWeight": "bold", "fontSize": 26, "color": "black"},
       "encoding": {"x": {"datum": 209.9, "type": "quantitative", "axis": null}, "y": {"datum": -22.6, "type": "quantitative", "axis": null}}},
      {"data": {"values": [{}]}, "mark": {"type": "rect", "fill": "white", "stroke": "#c4c4c4", "strokeWidth": 1.2},
       "encoding": {"x": {"datum": 127.6, "type": "quantitative", "axis": null}, "x2": {"datum": 233.8}, "y": {"datum": -28.45, "type": "quantitative", "axis": null}, "y2": {"datum": -37.4}}},
      {"data": {"values": [{}]}, "mark": {"type": "text", "text": "Long pulse", "align": "right", "fontSize": 17.5, "font": "Liberation Sans", "color": "#1a1a1a"},
       "encoding": {"x": {"datum": 174, "type": "quantitative", "axis": null}, "y": {"datum": -31.0, "type": "quantitative", "axis": null}}},
      {"data": {"values": [{}]}, "mark": {"type": "text", "text": "Short pulse", "align": "right", "fontSize": 17.5, "font": "Liberation Sans", "color": "#1a1a1a"},
       "encoding": {"x": {"datum": 174, "type": "quantitative", "axis": null}, "y": {"datum": -34.6, "type": "quantitative", "axis": null}}},
      {"data": {"values": [{}]}, "mark": {"type": "rule", "color": "black", "strokeWidth": 1.6},
       "encoding": {"x": {"datum": 180.2, "type": "quantitative", "axis": null}, "x2": {"datum": 225.5}, "y": {"datum": -31.0, "type": "quantitative", "axis": null}}},
      {"data": {"values": [{}]}, "mark": {"type": "rule", "color": "black", "strokeWidth": 1.3, "strokeDash": [1.4, 2.4]},
       "encoding": {"x": {"datum": 180.2, "type": "quantitative", "axis": null}, "x2": {"datum": 225.5}, "y": {"datum": -34.6, "type": "quantitative", "axis": null}}}
    ]
  },
  {
    "width": 310, "height": 256,
    "resolve": {"axis": {"x": "independent", "y": "independent"}},
    "layer": [
      {"data": {"name": "histB"}, "mark": {"type": "bar", "color": "black", "binSpacing": 2},
       "encoding": {
         "x": {"field": "lo", "bin": "binned", "type": "quantitative", "scale": {"domain": [-25.5, 5.5], "nice": false, "zero": false},
               "axis": {"orient": "bottom", "values": [-25, -20, -15, -10, -5, 0, 5], "ticks": false, "labelPadding": 9, "title": "L−S [dB]", "titlePadding": 3}},
         "x2": {"field": "hi"},
         "y": {"field": "freq", "type": "quantitative", "scale": {"domain": [0, 25], "nice": false},
               "axis": {"orient": "left", "values": [0, 5, 10, 15, 20, 25], "ticks": false, "labelPadding": 9, "title": "Normalized frequency[%]", "titlePadding": 6}}
       }},
      {"data": {"name": "histB"}, "transform": [{"filter": "datum.lo == -13"}], "mark": {"type": "point", "opacity": 0},
       "encoding": {
         "x": {"field": "lo", "type": "quantitative", "axis": {"orient": "bottom", "values": [-25, -20, -15, -10, -5, 0, 5], "labels": false, "tickSize": -10, "title": null}},
         "y": {"field": "freq", "type": "quantitative", "axis": {"orient": "left", "values": [0, 5, 10, 15, 20, 25], "labels": false, "tickSize": -10, "title": null}}}},
      {"data": {"name": "histB"}, "transform": [{"filter": "datum.lo == -13"}], "mark": {"type": "point", "opacity": 0},
       "encoding": {
         "x": {"field": "lo", "type": "quantitative", "axis": {"orient": "bottom", "values": [-24,-23,-22,-21,-19,-18,-17,-16,-14,-13,-12,-11,-9,-8,-7,-6,-4,-3,-2,-1,1,2,3,4], "labels": false, "tickSize": -5, "title": null}},
         "y": {"field": "freq", "type": "quantitative", "axis": {"orient": "left", "values": [1,2,3,4,6,7,8,9,11,12,13,14,16,17,18,19,21,22,23,24], "labels": false, "tickSize": -5, "title": null}}}},
      {"data": {"name": "histB"}, "transform": [{"filter": "datum.lo == -13"}], "mark": {"type": "point", "opacity": 0},
       "encoding": {
         "x": {"field": "lo", "type": "quantitative", "axis": {"orient": "top", "values": [-25, -20, -15, -10, -5, 0, 5], "labels": false, "tickSize": -10, "title": null}},
         "y": {"field": "freq", "type": "quantitative", "axis": {"orient": "right", "values": [0, 5, 10, 15, 20, 25], "labels": false, "tickSize": -10, "title": null}}}},
      {"data": {"name": "histB"}, "transform": [{"filter": "datum.lo == -13"}], "mark": {"type": "point", "opacity": 0},
       "encoding": {
         "x": {"field": "lo", "type": "quantitative", "axis": {"orient": "top", "values": [-24,-23,-22,-21,-19,-18,-17,-16,-14,-13,-12,-11,-9,-8,-7,-6,-4,-3,-2,-1,1,2,3,4], "labels": false, "tickSize": -5, "title": null}},
         "y": {"field": "freq", "type": "quantitative", "axis": {"orient": "right", "values": [1,2,3,4,6,7,8,9,11,12,13,14,16,17,18,19,21,22,23,24], "labels": false, "tickSize": -5, "title": null}}}},
      {"data": {"values": [{}]}, "mark": {"type": "rule", "color": "#e3292f", "strokeWidth": 4},
       "encoding": {"x": {"datum": -6.1, "type": "quantitative", "axis": null}, "y": {"datum": 0, "type": "quantitative", "axis": null}, "y2": {"datum": 25}}},
      {"data": {"values": [{}]}, "mark": {"type": "rule", "color": "#e3292f", "strokeWidth": 3.5},
       "encoding": {"x": {"datum": -6.1, "type": "quantitative", "axis": null}, "x2": {"datum": -1.3}, "y": {"datum": 17.1, "type": "quantitative", "axis": null}}},
      {"data": {"values": [{}]}, "mark": {"type": "rule", "color": "#e3292f", "strokeWidth": 3.5, "strokeCap": "round"},
       "encoding": {"x": {"datum": -1.2, "type": "quantitative", "axis": null}, "x2": {"datum": -2.5}, "y": {"datum": 17.1, "type": "quantitative", "axis": null}, "y2": {"datum": 18.36}}},
      {"data": {"values": [{}]}, "mark": {"type": "rule", "color": "#e3292f", "strokeWidth": 3.5, "strokeCap": "round"},
       "encoding": {"x": {"datum": -1.2, "type": "quantitative", "axis": null}, "x2": {"datum": -2.5}, "y": {"datum": 17.1, "type": "quantitative", "axis": null}, "y2": {"datum": 15.84}}},
      {"data": {"values": [{}]}, "mark": {"type": "text", "text": "GC", "font": "Noto Sans", "fontWeight": "bold", "fontSize": 27, "color": "#e3292f"},
       "encoding": {"x": {"datum": -1.3, "type": "quantitative", "axis": null}, "y": {"datum": 20.3, "type": "quantitative", "axis": null}}},
      {"data": {"values": [{}]}, "mark": {"type": "text", "text": "(b)", "font": "Noto Sans", "fontWeight": "bold", "fontSize": 26, "color": "black"},
       "encoding": {"x": {"datum": -20.4, "type": "quantitative", "axis": null}, "y": {"datum": 20.9, "type": "quantitative", "axis": null}}}
    ]
  },
  {
    "width": 467, "height": 255,
    "resolve": {"axis": {"x": "independent", "y": "independent"}},
    "layer": [
      {"data": {"name": "mdrC"}, "transform": [{"filter": "datum.pulse == 'Long pulse'"}],
       "mark": {"type": "line", "clip": true, "color": "black", "strokeWidth": 2.3},
       "encoding": {
         "x": {"field": "km", "type": "quantitative", "scale": {"domain": [0, 240], "nice": false, "zero": false},
               "axis": {"orient": "bottom", "values": [0, 50, 100, 150, 200], "ticks": false, "labelPadding": 10, "labelExpr": "'' + datum.value", "title": "Range [km]", "titlePadding": 3}},
         "y": {"field": "dbz", "type": "quantitative", "scale": {"domain": [-40, 10], "nice": false, "zero": false},
               "axis": {"orient": "left", "values": [-40, -30, -20, -10, 0, 10], "ticks": false, "labelPadding": 5, "labelExpr": "'' + datum.value", "title": "Minimum Zʜ [dBZ]", "titlePadding": 12}}
       }},
      {"data": {"name": "mdrC"}, "transform": [{"filter": "datum.pulse == 'Short pulse'"}],
       "mark": {"type": "line", "clip": true, "color": "black", "strokeWidth": 1.5, "strokeDash": [1.5, 2.3]},
       "encoding": {"x": {"field": "km", "type": "quantitative", "axis": null}, "y": {"field": "dbz", "type": "quantitative", "axis": null}}},
      {"data": {"name": "mdrC"}, "transform": [{"filter": "datum.km == 0"}], "mark": {"type": "point", "opacity": 0},
       "encoding": {
         "x": {"field": "km", "type": "quantitative", "axis": {"orient": "bottom", "values": [0, 50, 100, 150, 200], "labels": false, "tickSize": -10, "title": null}},
         "y": {"field": "dbz", "type": "quantitative", "axis": {"orient": "left", "values": [-40, -30, -20, -10, 0, 10], "labels": false, "tickSize": -10, "title": null}}}},
      {"data": {"name": "mdrC"}, "transform": [{"filter": "datum.km == 0"}], "mark": {"type": "point", "opacity": 0},
       "encoding": {
         "x": {"field": "km", "type": "quantitative", "axis": {"orient": "bottom", "values": [10,20,30,40,60,70,80,90,110,120,130,140,160,170,180,190,210,220,230], "labels": false, "tickSize": -5, "title": null}},
         "y": {"field": "dbz", "type": "quantitative", "axis": {"orient": "left", "values": [-38,-36,-34,-32,-28,-26,-24,-22,-18,-16,-14,-12,-8,-6,-4,-2,2,4,6,8], "labels": false, "tickSize": -5, "title": null}}}},
      {"data": {"name": "mdrC"}, "transform": [{"filter": "datum.km == 0"}], "mark": {"type": "point", "opacity": 0},
       "encoding": {
         "x": {"field": "km", "type": "quantitative", "axis": {"orient": "top", "values": [0, 50, 100, 150, 200], "labels": false, "tickSize": -10, "title": null}},
         "y": {"field": "dbz", "type": "quantitative", "axis": {"orient": "right", "values": [-40, -30, -20, -10, 0, 10], "labels": false, "tickSize": -10, "title": null}}}},
      {"data": {"name": "mdrC"}, "transform": [{"filter": "datum.km == 0"}], "mark": {"type": "point", "opacity": 0},
       "encoding": {
         "x": {"field": "km", "type": "quantitative", "axis": {"orient": "top", "values": [10,20,30,40,60,70,80,90,110,120,130,140,160,170,180,190,210,220,230], "labels": false, "tickSize": -5, "title": null}},
         "y": {"field": "dbz", "type": "quantitative", "axis": {"orient": "right", "values": [-38,-36,-34,-32,-28,-26,-24,-22,-18,-16,-14,-12,-8,-6,-4,-2,2,4,6,8], "labels": false, "tickSize": -5, "title": null}}}},
      {"data": {"values": [{}]}, "mark": {"type": "rect", "filled": false, "stroke": "#e3292f", "strokeWidth": 4.5},
       "encoding": {"x": {"datum": 0, "type": "quantitative", "axis": null}, "x2": {"datum": 30.3}, "y": {"datum": -40, "type": "quantitative", "axis": null}, "y2": {"datum": 10}}},
      {"data": {"values": [{}]}, "mark": {"type": "text", "text": "GC", "font": "Noto Sans", "fontWeight": "bold", "fontSize": 27, "color": "#e3292f"},
       "encoding": {"x": {"datum": 47.5, "type": "quantitative", "axis": null}, "y": {"datum": -2.06, "type": "quantitative", "axis": null}}},
      {"data": {"values": [{}]}, "mark": {"type": "text", "text": "(c)", "font": "Noto Sans", "fontWeight": "bold", "fontSize": 26, "color": "black"},
       "encoding": {"x": {"datum": 209.4, "type": "quantitative", "axis": null}, "y": {"datum": -22.8, "type": "quantitative", "axis": null}}},
      {"data": {"values": [{}]}, "mark": {"type": "rect", "fill": "white", "stroke": "#c4c4c4", "strokeWidth": 1.2},
       "encoding": {"x": {"datum": 127.4, "type": "quantitative", "axis": null}, "x2": {"datum": 234.3}, "y": {"datum": -28.8, "type": "quantitative", "axis": null}, "y2": {"datum": -37.5}}},
      {"data": {"values": [{}]}, "mark": {"type": "text", "text": "Long pulse", "align": "right", "fontSize": 17.5, "font": "Liberation Sans", "color": "#1a1a1a"},
       "encoding": {"x": {"datum": 174.4, "type": "quantitative", "axis": null}, "y": {"datum": -31.2, "type": "quantitative", "axis": null}}},
      {"data": {"values": [{}]}, "mark": {"type": "text", "text": "Short pulse", "align": "right", "fontSize": 17.5, "font": "Liberation Sans", "color": "#1a1a1a"},
       "encoding": {"x": {"datum": 174.4, "type": "quantitative", "axis": null}, "y": {"datum": -34.8, "type": "quantitative", "axis": null}}},
      {"data": {"values": [{}]}, "mark": {"type": "rule", "color": "black", "strokeWidth": 1.6},
       "encoding": {"x": {"datum": 180, "type": "quantitative", "axis": null}, "x2": {"datum": 226}, "y": {"datum": -31.2, "type": "quantitative", "axis": null}}},
      {"data": {"values": [{}]}, "mark": {"type": "rule", "color": "black", "strokeWidth": 1.3, "strokeDash": [1.4, 2.4]},
       "encoding": {"x": {"datum": 180, "type": "quantitative", "axis": null}, "x2": {"datum": 226}, "y": {"datum": -34.8, "type": "quantitative", "axis": null}}}
    ]
  },
  {
    "width": 310, "height": 257,
    "resolve": {"axis": {"x": "independent", "y": "independent"}},
    "layer": [
      {"data": {"name": "histD"}, "mark": {"type": "bar", "color": "black", "binSpacing": 2},
       "encoding": {
         "x": {"field": "lo", "bin": "binned", "type": "quantitative", "scale": {"domain": [-25.5, 5.5], "nice": false, "zero": false},
               "axis": {"orient": "bottom", "values": [-25, -20, -15, -10, -5, 0, 5], "ticks": false, "labelPadding": 9, "title": "L−S [dB]", "titlePadding": 3}},
         "x2": {"field": "hi"},
         "y": {"field": "freq", "type": "quantitative", "scale": {"domain": [0, 31], "nice": false},
               "axis": {"orient": "left", "values": [0, 5, 10, 15, 20, 25, 30], "ticks": false, "labelPadding": 9, "title": "Normalized frequency[%]", "titlePadding": 6}}
       }},
      {"data": {"name": "histD"}, "transform": [{"filter": "datum.lo == -6"}], "mark": {"type": "point", "opacity": 0},
       "encoding": {
         "x": {"field": "lo", "type": "quantitative", "axis": {"orient": "bottom", "values": [-25, -20, -15, -10, -5, 0, 5], "labels": false, "tickSize": -10, "title": null}},
         "y": {"field": "freq", "type": "quantitative", "axis": {"orient": "left", "values": [0, 5, 10, 15, 20, 25, 30], "labels": false, "tickSize": -10, "title": null}}}},
      {"data": {"name": "histD"}, "transform": [{"filter": "datum.lo == -6"}], "mark": {"type": "point", "opacity": 0},
       "encoding": {
         "x": {"field": "lo", "type": "quantitative", "axis": {"orient": "bottom", "values": [-24,-23,-22,-21,-19,-18,-17,-16,-14,-13,-12,-11,-9,-8,-7,-6,-4,-3,-2,-1,1,2,3,4], "labels": false, "tickSize": -5, "title": null}},
         "y": {"field": "freq", "type": "quantitative", "axis": {"orient": "left", "values": [1,2,3,4,6,7,8,9,11,12,13,14,16,17,18,19,21,22,23,24,26,27,28,29], "labels": false, "tickSize": -5, "title": null}}}},
      {"data": {"name": "histD"}, "transform": [{"filter": "datum.lo == -6"}], "mark": {"type": "point", "opacity": 0},
       "encoding": {
         "x": {"field": "lo", "type": "quantitative", "axis": {"orient": "top", "values": [-25, -20, -15, -10, -5, 0, 5], "labels": false, "tickSize": -10, "title": null}},
         "y": {"field": "freq", "type": "quantitative", "axis": {"orient": "right", "values": [0, 5, 10, 15, 20, 25, 30], "labels": false, "tickSize": -10, "title": null}}}},
      {"data": {"name": "histD"}, "transform": [{"filter": "datum.lo == -6"}], "mark": {"type": "point", "opacity": 0},
       "encoding": {
         "x": {"field": "lo", "type": "quantitative", "axis": {"orient": "top", "values": [-24,-23,-22,-21,-19,-18,-17,-16,-14,-13,-12,-11,-9,-8,-7,-6,-4,-3,-2,-1,1,2,3,4], "labels": false, "tickSize": -5, "title": null}},
         "y": {"field": "freq", "type": "quantitative", "axis": {"orient": "right", "values": [1,2,3,4,6,7,8,9,11,12,13,14,16,17,18,19,21,22,23,24,26,27,28,29], "labels": false, "tickSize": -5, "title": null}}}},
      {"data": {"values": [{}]}, "mark": {"type": "rule", "color": "#e3292f", "strokeWidth": 4},
       "encoding": {"x": {"datum": -2.65, "type": "quantitative", "axis": null}, "y": {"datum": 0, "type": "quantitative", "axis": null}, "y2": {"datum": 31}}},
      {"data": {"values": [{}]}, "mark": {"type": "rule", "color": "#e3292f", "strokeWidth": 3.5},
       "encoding": {"x": {"datum": -2.65, "type": "quantitative", "axis": null}, "x2": {"datum": 2.1}, "y": {"datum": 21.1, "type": "quantitative", "axis": null}}},
      {"data": {"values": [{}]}, "mark": {"type": "rule", "color": "#e3292f", "strokeWidth": 3.5, "strokeCap": "round"},
       "encoding": {"x": {"datum": 2.2, "type": "quantitative", "axis": null}, "x2": {"datum": 0.9}, "y": {"datum": 21.1, "type": "quantitative", "axis": null}, "y2": {"datum": 22.65}}},
      {"data": {"values": [{}]}, "mark": {"type": "rule", "color": "#e3292f", "strokeWidth": 3.5, "strokeCap": "round"},
       "encoding": {"x": {"datum": 2.2, "type": "quantitative", "axis": null}, "x2": {"datum": 0.9}, "y": {"datum": 21.1, "type": "quantitative", "axis": null}, "y2": {"datum": 19.55}}},
      {"data": {"values": [{}]}, "mark": {"type": "text", "text": "GC", "font": "Noto Sans", "fontWeight": "bold", "fontSize": 27, "color": "#e3292f"},
       "encoding": {"x": {"datum": 1.2, "type": "quantitative", "axis": null}, "y": {"datum": 25.0, "type": "quantitative", "axis": null}}},
      {"data": {"values": [{}]}, "mark": {"type": "text", "text": "(d)", "font": "Noto Sans", "fontWeight": "bold", "fontSize": 26, "color": "black"},
       "encoding": {"x": {"datum": -20.5, "type": "quantitative", "axis": null}, "y": {"datum": 26.1, "type": "quantitative", "axis": null}}}
    ]
  },
  {
    "width": 467, "height": 87,
    "view": {"stroke": null},
    "data": {"name": "caption"},
    "encoding": {"y": {"field": "line", "type": "ordinal", "axis": null, "scale": {"domain": [1, 2, 3]}}},
    "layer": [
      {"transform": [{"filter": "datum.part == 'head'"}],
       "mark": {"type": "text", "align": "left", "font": "Liberation Serif", "fontSize": 20, "fontWeight": "bold", "color": "black"},
       "encoding": {"x": {"value": -198.5}, "text": {"field": "text"}}},
      {"transform": [{"filter": "datum.part == 'first'"}],
       "mark": {"type": "text", "align": "left", "font": "Liberation Serif", "fontSize": 20, "color": "black"},
       "encoding": {"x": {"value": -136}, "text": {"field": "text"}}},
      {"transform": [{"filter": "datum.part == 'body'"}],
       "mark": {"type": "text", "align": "left", "font": "Liberation Serif", "fontSize": 20, "color": "black"},
       "encoding": {"x": {"value": -198.5}, "text": {"field": "text"}}}
    ]
  }
]
}
